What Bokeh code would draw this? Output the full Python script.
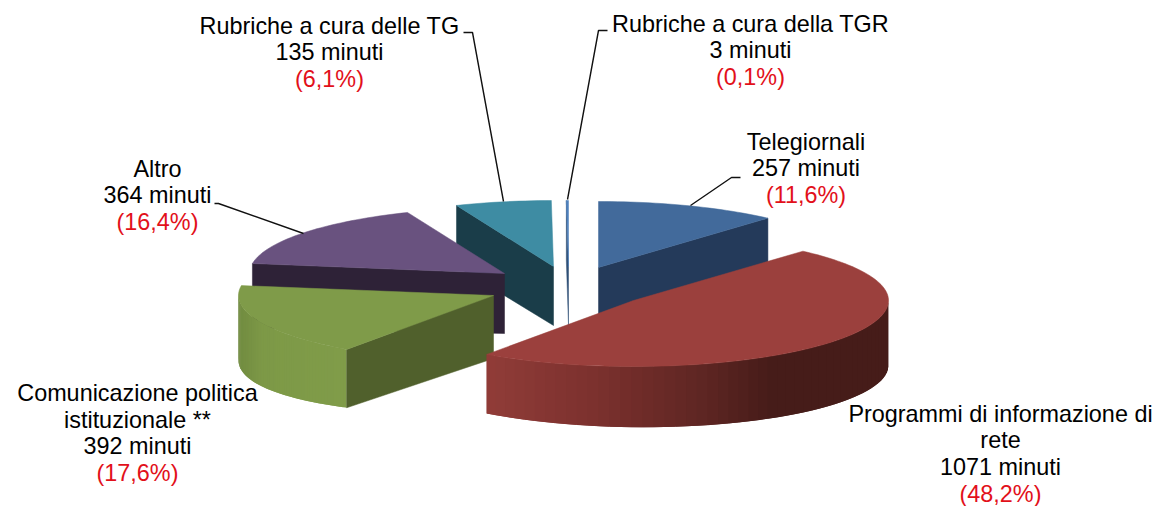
import math
from bokeh.plotting import figure
from bokeh.core.properties import value
from bokeh.embed import file_html
from bokeh.resources import INLINE

names = ["Telegiornali", "Programmi di informazione di rete", "Comunicazione politica istituzionale **",
         "Altro", "Rubriche a cura delle TG", "Rubriche a cura della TGR"]
minutes = [257, 1071, 392, 364, 135, 3]
percents = ["(11,6%)", "(48,2%)", "(17,6%)", "(16,4%)", "(6,1%)", "(0,1%)"]

top_colors = ["#426A9B", "#9B403D", "#7F9B49", "#69527F", "#3E8CA3", "#4F81BD"]
side_colors = ["#243A5A", "#8F3B38", "#50602C", "#2E2237", "#1A3D49", "#2F4F75"]
apex_x = [598, 633, 493, 504, 553, 568]
apex_y = [267, 300, 295, 273, 266, 266]
apex_depth = [60, 60, 63, 60, 59, 59]
draw_order = [4, 5, 0, 3, 2, 1]
RX, RY = 255, 66


def depth(i, a):
    if i == 1:
        return 65 - 6 * (a - math.pi / 2) / (125 * math.pi / 180)
    if i == 2:
        return 65 - 10 * math.cos(a) ** 2
    return 60 + 5 * math.sin(a) ** 2


def pt(i, a):
    return apex_x[i] + RX * math.sin(a), apex_y[i] - RY * math.cos(a)


def mix(c1, c2, t):
    return tuple(c1[k] + (c2[k] - c1[k]) * t for k in range(3))


def hexc(c):
    return "#%02X%02X%02X" % tuple(int(round(v)) for v in c)


def shade(i, x):
    if i == 1:
        stops = [(487, (145, 60, 56)), (600, (122, 48, 45)), (700, (95, 38, 35)), (770, (70, 28, 25)), (895, (70, 28, 25))]
    else:
        stops = [(236, (112, 138, 64)), (262, (125, 153, 71)), (346, (128, 156, 73))]
    if x <= stops[0][0]:
        return hexc(stops[0][1])
    for (x0, c0), (x1, c1) in zip(stops, stops[1:]):
        if x <= x1:
            return hexc(mix(c0, c1, (x - x0) / (x1 - x0)))
    return hexc(stops[-1][1])


total = sum(minutes)
starts, ends = [], []
acc = 0
for m in minutes:
    starts.append(acc / total * 2 * math.pi)
    acc += m
    ends.append(acc / total * 2 * math.pi)

p = figure(width=1158, height=506, x_range=(0, 1158), y_range=(506, 0),
           toolbar_location=None, output_backend="svg", min_border=0,
           outline_line_color=None, background_fill_color="white", border_fill_color="white")
p.axis.visible = False
p.grid.visible = False


def quad(xs, ys, cols, q, c):
    xs.append([v[0] for v in q])
    ys.append([v[1] for v in q])
    cols.append(c)


for i in draw_order:
    a0, a1 = starts[i], ends[i]
    cx, cy = apex_x[i], apex_y[i]
    # outer wall (strips overlap so no seams show)
    if i in (1, 2):
        xs, ys, cols = [], [], []
        n = 70
        du = (a1 - a0) / n
        for k in range(n):
            u0 = a0 + du * k
            u1 = min(a0 + du * (k + 2), a1)
            if math.cos(u0) > 0.02:
                continue
            x0, y0 = pt(i, u0)
            x1, y1 = pt(i, u1)
            quad(xs, ys, cols, [(x0, y0), (x1, y1), (x1, y1 + depth(i, u1)), (x0, y0 + depth(i, u0))],
                 shade(i, x0 + (x1 - x0) / 4))
        p.patches(xs, ys, fill_color=cols, line_color=None)
    # radial face
    xs, ys, cols = [], [], []
    a = a1 if i == 0 else a0
    x, y = pt(i, a)
    if i != 1:
        quad(xs, ys, cols, [(cx, cy), (x, y), (x, y + depth(i, a)), (cx, cy + apex_depth[i])], side_colors[i])
        p.patches(xs, ys, fill_color=cols, line_color=cols, line_width=0.5)
    # top
    n = max(4, int((a1 - a0) * 40))
    tx = [cx] + [pt(i, a0 + (a1 - a0) * k / n)[0] for k in range(n + 1)]
    ty = [cy] + [pt(i, a0 + (a1 - a0) * k / n)[1] for k in range(n + 1)]
    p.patch(tx, ty, fill_color=top_colors[i], line_color=top_colors[i], line_width=0.5)

# leader lines
lx = [[740, 731, 690], [214, 218, 303], [463, 472, 503], [607, 598, 567]]
ly = [[177, 177, 205], [203, 203, 233], [32, 32, 201], [30, 30, 199]]
p.multi_line(lx, ly, line_color="#111111", line_width=1.4)

# labels
label_lines = [
    (805.5, 141, [names[0], f"{minutes[0]} minuti"]),
    (1000, 413, ["Programmi di informazione di", "rete", f"{minutes[1]} minuti"]),
    (137, 392.5, ["Comunicazione politica", "istituzionale **", f"{minutes[2]} minuti"]),
    (157, 168, [names[3], f"{minutes[3]} minuti"]),
    (329, 25, [names[4], f"{minutes[4]} minuti"]),
    (750, 23, [names[5], f"{minutes[5]} minuti"]),
]
LH = 26.7
for i, (x, y, lines) in enumerate(label_lines):
    all_lines = lines + [percents[i]]
    cols = ["#000000"] * len(lines) + ["#E2101A"]
    p.text([x] * len(all_lines), [y + LH * k for k in range(len(all_lines))], text=all_lines,
           text_color=cols, text_font=value("Liberation Sans"), text_font_size="23.4px",
           text_align="center", text_baseline="middle")

open("out.html", "w").write(file_html(p, INLINE))
